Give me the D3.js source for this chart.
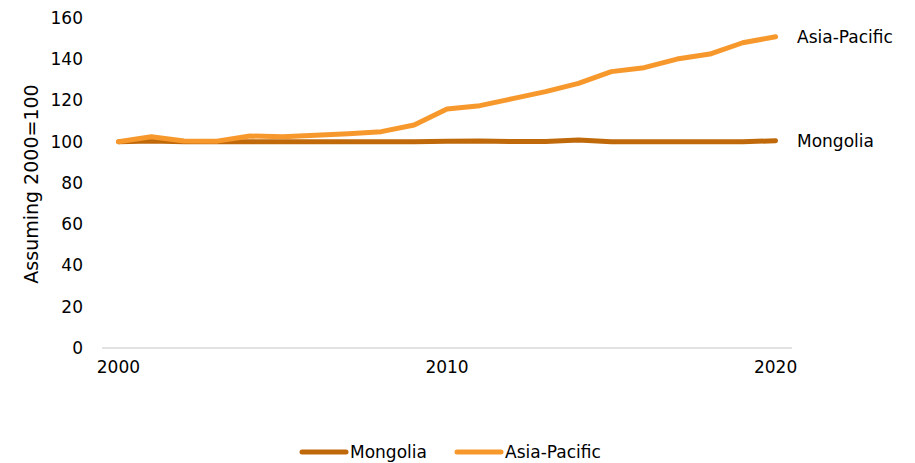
<!DOCTYPE html>
<html>
<head>
<meta charset="utf-8">
<script src="https://cdn.jsdelivr.net/npm/d3@7"></script>
<style>
  body { margin: 0; background: #fff; }
  svg text { font-family: "DejaVu Sans", sans-serif; fill: #000; }
</style>
</head>
<body>
<script>
var years = d3.range(2000, 2021);
var mongolia = [100, 100.4, 100, 100, 100, 100, 100, 100, 100, 100, 100.2, 100.4, 100.1, 100.1, 100.9, 100, 100, 100, 100, 100, 100.5];
var asiaPacific = [100, 102.4, 100.4, 100.3, 102.8, 102.4, 103.2, 103.9, 104.9, 108.1, 115.9, 117.5, 120.9, 124.3, 128.3, 134, 135.9, 140.1, 142.5, 148, 150.9];
var yTicks = [0, 20, 40, 60, 80, 100, 120, 140, 160];
var xTickYears = [2000, 2010, 2020];

var seriesList = [
  {name: "Mongolia", values: mongolia, color: "#c0690b"},
  {name: "Asia-Pacific", values: asiaPacific, color: "#f7982d"}
];

var width = 915, height = 463;
var fontSize = "17px";
var svg = d3.select("body").append("svg")
  .attr("width", width)
  .attr("height", height);

var x = d3.scaleBand().domain(years).range([102, 792]);
var y = d3.scaleLinear().domain([0, 160]).range([348, 18]);

// axis line at the bottom
svg.append("line")
  .attr("x1", 102).attr("x2", 792)
  .attr("y1", y(0)).attr("y2", y(0))
  .attr("stroke", "#d9d9d9")
  .attr("stroke-width", 1.3);

// y tick labels
var yAxis = d3.axisLeft(y).tickValues(yTicks).tickSize(0).tickPadding(0);
var gy = svg.append("g").attr("transform", "translate(83,0)").call(yAxis);
gy.select(".domain").remove();
gy.selectAll("text").style("font-size", fontSize).attr("fill", "#000");

// x tick labels
var xAxis = d3.axisBottom(x).tickValues(xTickYears).tickSize(0).tickPadding(0);
var gx = svg.append("g").attr("transform", "translate(0,361)").call(xAxis);
gx.select(".domain").remove();
gx.selectAll("text").style("font-size", fontSize).attr("fill", "#000");

// y title
svg.append("text")
  .attr("transform", "translate(38,184) rotate(-90)")
  .attr("text-anchor", "middle")
  .style("font-size", "19px")
  .text("Assuming 2000=100");

var line = d3.line()
  .x(function (d, i) { return x(years[i]) + x.bandwidth() / 2; })
  .y(function (d) { return y(d); });

svg.selectAll("path.series")
  .data(seriesList)
  .enter()
  .append("path")
  .attr("class", "series")
  .attr("d", function (d) { return line(d.values); })
  .attr("fill", "none")
  .attr("stroke", function (d) { return d.color; })
  .attr("stroke-width", 5)
  .attr("stroke-linecap", "round")
  .attr("stroke-linejoin", "round");

// end labels
svg.selectAll("text.endlabel")
  .data(seriesList)
  .enter()
  .append("text")
  .attr("class", "endlabel")
  .attr("x", 797)
  .attr("y", function (d) { return y(d.values[d.values.length - 1]); })
  .attr("dy", "0.35em")
  .style("font-size", fontSize)
  .text(function (d) { return d.name; });

// legend
var legendX = [300, 455];
var legend = svg.selectAll("g.legend")
  .data(seriesList)
  .enter()
  .append("g")
  .attr("class", "legend")
  .attr("transform", function (d, i) { return "translate(" + legendX[i] + ",452)"; });

legend.append("line")
  .attr("x1", 2).attr("x2", 46)
  .attr("stroke", function (d) { return d.color; })
  .attr("stroke-width", 5)
  .attr("stroke-linecap", "round");

legend.append("text")
  .attr("x", 50)
  .attr("dy", "0.35em")
  .style("font-size", fontSize)
  .text(function (d) { return d.name; });
</script>
</body>
</html>
